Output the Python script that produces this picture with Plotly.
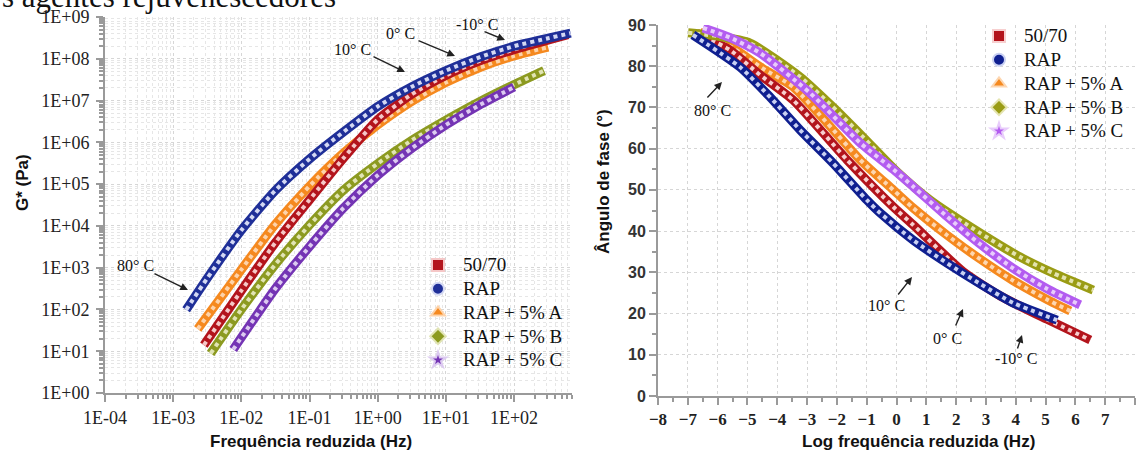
import plotly.graph_objects as go

W, H = 1139, 454

# ---------------- Left panel: |G*| master curves (frequency in Hz, G* in Pa) ----------------
f_5070 = [2.82e-3, 1.0e-2, 3.16e-2, 0.1, 0.316, 1.0, 3.16, 10, 31.6, 100, 617]
g_5070 = [14, 282, 4.0e3, 4.2e4, 4.2e5, 3.5e6, 1.41e7, 4.0e7, 8.9e7, 1.66e8, 3.8e8]

f_rap = [1.55e-3, 3.16e-3, 1.0e-2, 3.16e-2, 0.1, 0.316, 1.0, 3.16, 10, 31.6, 100, 316, 676]
g_rap = [98, 560, 7.9e3, 7.1e4, 4.0e5, 1.78e6, 7.2e6, 2.14e7, 5.2e7, 1.1e8, 2.0e8, 3.1e8, 4.1e8]

f_a = [2.29e-3, 1.0e-2, 3.16e-2, 0.1, 0.316, 1.0, 3.16, 10, 31.6, 100, 316]
g_a = [34, 900, 1.1e4, 9.0e4, 5.6e5, 2.6e6, 9.5e6, 2.7e7, 6.2e7, 1.17e8, 1.9e8]

f_b = [3.55e-3, 1.0e-2, 3.16e-2, 0.1, 0.316, 1.0, 3.16, 10, 31.6, 100, 275]
g_b = [8.9, 100, 1.2e3, 1.05e4, 7.2e4, 3.1e5, 1.12e6, 3.4e6, 9.5e6, 2.4e7, 5.2e7]

f_c = [7.6e-3, 3.16e-2, 0.1, 0.316, 1.0, 3.16, 10, 31.6, 100]
g_c = [11, 316, 3.2e3, 2.7e4, 1.62e5, 7.2e5, 2.6e6, 7.9e6, 2.1e7]

# ---------------- Right panel: phase angle (deg) vs log reduced frequency ----------------
x_5070 = [-6.7, -5.6, -4.58, -3.47, -1.66, -0.11, 0.56, 2.23, 3.5, 5.05, 6.5]
a_5070 = [88.0, 84.0, 77.9, 71.8, 57.3, 45.9, 41.5, 30.2, 24.2, 18.6, 13.6]

x_rap = [-6.83, -5.25, -4.24, -3.23, -2.13, -0.99, -0.55, 0.56, 1.70, 2.81, 3.91, 5.39]
a_rap = [87.6, 79.8, 72.5, 64.5, 56.5, 47.5, 44.4, 37.8, 32.2, 27.2, 22.6, 18.4]

x_a = [-6.6, -5.5, -4.5, -3.47, -2.3, -1.22, -0.11, 0.56, 1.70, 2.81, 3.91, 5.05, 5.83]
a_a = [88.3, 84.5, 79.5, 75.0, 66.0, 57.3, 50.0, 45.6, 39.0, 33.2, 28.0, 23.4, 20.6]

x_b = [-6.99, -6.0, -4.91, -3.23, -2.13, -1.12, 0.0, 1.13, 2.81, 4.15, 5.26, 6.60]
a_b = [88.1, 87.3, 85.6, 77.4, 70.1, 62.8, 54.5, 47.5, 39.5, 33.7, 29.8, 25.7]

x_c = [-6.49, -5.6, -4.58, -2.90, -1.22, -0.11, 0.56, 1.70, 2.81, 3.91, 5.05, 6.16]
a_c = [89.3, 87.0, 83.2, 73.5, 61.4, 55.0, 50.8, 43.5, 36.8, 31.0, 26.0, 22.1]

names = ["50/70", "RAP", "RAP + 5% A", "RAP + 5% B", "RAP + 5% C"]
symbols = ["square", "circle", "triangle-up", "diamond", "star"]

left_dark = ["#b3141c", "#1f2f98", "#f5891f", "#8c9a20", "#7434b4"]
left_light = ["#f5c7c7", "#d3d8f3", "#fdd3aa", "#e1e4b4", "#dccaf0"]
right_dark = ["#b3141c", "#0f1f90", "#f5891f", "#9a9c14", "#b35cf0"]
right_light = ["#f7cfcf", "#c9d0f2", "#fdd6b0", "#e4e4b0", "#e8ccfb"]

x_ticks_left = [1e-4, 1e-3, 1e-2, 1e-1, 1e0, 1e1, 1e2]
x_ticktext_left = ["1E-04", "1E-03", "1E-02", "1E-01", "1E+00", "1E+01", "1E+02"]
y_ticks_left = [1e0, 1e1, 1e2, 1e3, 1e4, 1e5, 1e6, 1e7, 1e8, 1e9]
y_ticktext_left = ["1E+00", "1E+01", "1E+02", "1E+03", "1E+04", "1E+05", "1E+06", "1E+07", "1E+08", "1E+09"]

fig = go.Figure()


def band(x, y, dark, light, xa, ya, w=9):
    fig.add_trace(go.Scatter(x=x, y=y, mode="lines", xaxis=xa, yaxis=ya,
                             line=dict(color=dark, width=w, shape="spline", smoothing=0.6),
                             showlegend=False, hoverinfo="skip"))
    fig.add_trace(go.Scatter(x=x, y=y, mode="lines", xaxis=xa, yaxis=ya,
                             line=dict(color=light, width=w - 5, dash="dot", shape="spline", smoothing=0.6),
                             showlegend=False, hoverinfo="skip"))


left_series = [(f_a, g_a, 2), (f_5070, g_5070, 0), (f_b, g_b, 3), (f_c, g_c, 4), (f_rap, g_rap, 1)]
for fx, gy, i in left_series:
    band(fx, gy, left_dark[i], left_light[i], "x", "y")

right_series = [(x_a, a_a, 2), (x_5070, a_5070, 0), (x_b, a_b, 3), (x_c, a_c, 4), (x_rap, a_rap, 1)]
for xx, aa, i in right_series:
    band(xx, aa, right_dark[i], right_light[i], "x2", "y2")


def big(s):
    return '<span style="font-size:19px">' + s + "</span>"


# legend entries
for i, nm in enumerate(names):
    fig.add_trace(go.Scatter(x=[None], y=[None], mode="markers", name=big(nm), xaxis="x", yaxis="y",
                             marker=dict(symbol=symbols[i], size=9, color=left_dark[i],
                                         line=dict(color=left_light[i], width=1)),
                             legend="legend"))
for i, nm in enumerate(names):
    fig.add_trace(go.Scatter(x=[None], y=[None], mode="markers", name=big(nm), xaxis="x2", yaxis="y2",
                             marker=dict(symbol=symbols[i], size=9, color=right_dark[i],
                                         line=dict(color=right_light[i], width=1)),
                             legend="legend2"))


def px(x):
    return x / W


def py(y):
    return 1 - y / H


minor_log_x = [k * 10 ** e for e in range(-4, 3) for k in range(2, 10)]
minor_log_y = [k * 10 ** e for e in range(0, 9) for k in range(2, 10)]

serif = "Liberation Serif"
sans = "Liberation Sans"
axis_col = "#9a9a9a"
grid_col = "#d6d6d6"
minor_grid_col = "#e6e6e6"

fig.update_layout(
    width=W, height=H,
    margin=dict(l=0, r=0, t=0, b=0),
    paper_bgcolor="white", plot_bgcolor="white",
    showlegend=True,
    xaxis=dict(type="log", domain=[px(105), px(572)], range=[-4, 2.85], anchor="y", automargin=False,
               tickmode="array", tickvals=x_ticks_left, ticktext=x_ticktext_left,
               ticks="outside", ticklen=7, tickcolor=axis_col, tickwidth=1.5,
               showline=True, linecolor=axis_col, linewidth=2,
               showgrid=True, gridcolor=grid_col, griddash="dot", gridwidth=1,
               minor=dict(tickmode="array", tickvals=minor_log_x, ticks="outside", ticklen=4,
                          tickcolor=axis_col, showgrid=True, gridcolor=minor_grid_col, griddash="dot"),
               tickfont=dict(family=serif, size=18, color="#222"), zeroline=False),
    yaxis=dict(type="log", domain=[py(393), py(17)], range=[0, 9], anchor="x", automargin=False,
               tickmode="array", tickvals=y_ticks_left, ticktext=y_ticktext_left,
               ticks="outside", ticklen=7, tickcolor=axis_col, tickwidth=1.5,
               showline=True, linecolor=axis_col, linewidth=2,
               showgrid=True, gridcolor=grid_col, griddash="dot", gridwidth=1,
               minor=dict(tickmode="array", tickvals=minor_log_y, ticks="outside", ticklen=4,
                          tickcolor=axis_col, showgrid=True, gridcolor=minor_grid_col, griddash="dot"),
               ticklabelstandoff=3,
               tickfont=dict(family=serif, size=18, color="#222"), zeroline=False),
    xaxis2=dict(domain=[px(658), px(1135)], range=[-8, 8], anchor="y2", automargin=False,
                tickmode="linear", tick0=-8, dtick=1,
                ticks="outside", ticklen=7, tickcolor=axis_col, tickwidth=1.5,
                showline=True, linecolor=axis_col, linewidth=2,
                showgrid=True, gridcolor=grid_col, griddash="dot",
                minor=dict(dtick=0.5, ticks="outside", ticklen=4, tickcolor=axis_col, showgrid=False),
                tickfont=dict(family=serif, size=17, color="#222", weight="bold"), zeroline=False),
    yaxis2=dict(domain=[py(396), py(25)], range=[0, 90], anchor="x2", automargin=False,
                tickmode="linear", tick0=0, dtick=10,
                ticks="outside", ticklen=7, tickcolor=axis_col, tickwidth=1.5,
                showline=True, linecolor=axis_col, linewidth=2,
                showgrid=True, gridcolor=grid_col, griddash="dot",
                minor=dict(dtick=5, ticks="outside", ticklen=4, tickcolor=axis_col, showgrid=False),
                tickfont=dict(family=sans, size=16, color="#333", weight="bold"), zeroline=False),
    legend=dict(x=px(413), y=py(248), xanchor="left", yanchor="top",
                font=dict(family=serif, size=16, color="#111"), bgcolor="rgba(255,255,255,0)",
                itemsizing="constant", itemwidth=40, tracegroupgap=0),
    legend2=dict(x=px(974), y=py(19), xanchor="left", yanchor="top",
                 font=dict(family=serif, size=16, color="#111"), bgcolor="rgba(255,255,255,0)",
                 itemsizing="constant", itemwidth=40, tracegroupgap=0),
)

ann = []


def text(x, y, s, size=16, fam=serif, bold=False, angle=0, color="#111"):
    ann.append(dict(x=px(x), y=py(y), xref="paper", yref="paper", text=s, showarrow=False,
                    xanchor="center", yanchor="middle", textangle=angle,
                    font=dict(family=fam, size=size, color=color, weight="bold" if bold else "normal")))


def arrow(x0, y0, x1, y1):
    ann.append(dict(x=px(x1), y=py(y1), xref="paper", yref="paper", text="", showarrow=True,
                    ax=x0 - x1, ay=y0 - y1, axref="pixel", ayref="pixel",
                    arrowhead=2, arrowsize=1.1, arrowwidth=1.4, arrowcolor="#222"))


# axis titles
text(311, 441, "Frequência reduzida (Hz)", size=17, fam=sans, bold=True)
text(22, 183, "G* (Pa)", size=17, fam=sans, bold=True, angle=-90)
text(918, 441, "Log frequência reduzida (Hz)", size=17, fam=sans, bold=True)
text(603, 182, "Ângulo de fase (°)", size=17, fam=sans, bold=True, angle=-90)

# temperature labels - left
text(135, 265, "80° C")
arrow(153, 273, 188, 290)
text(352, 49, "10° C")
arrow(372, 56, 405, 72)
text(400, 33, "0° C")
arrow(417, 40, 455, 56)
text(477, 25, "-10° C")
arrow(483, 31, 505, 40)

# temperature labels - right
text(712, 110, "80° C")
arrow(706, 99, 722, 82)
text(886, 305, "10° C")
arrow(897, 296, 912, 277)
text(947, 338, "0° C")
arrow(955, 327, 963, 309)
text(1016, 358, "-10° C")
arrow(1017, 350, 1022, 335)

# cut-off caption at the very top (as in the reference scan)
ann.append(dict(x=0, y=py(16), xref="paper", yref="paper", text="s agentes rejuvenescedores",
                showarrow=False, xanchor="left", yanchor="bottom",
                font=dict(family=serif, size=31, color="#111")))

fig.update_layout(annotations=ann)

fig.write_html("out.html")
